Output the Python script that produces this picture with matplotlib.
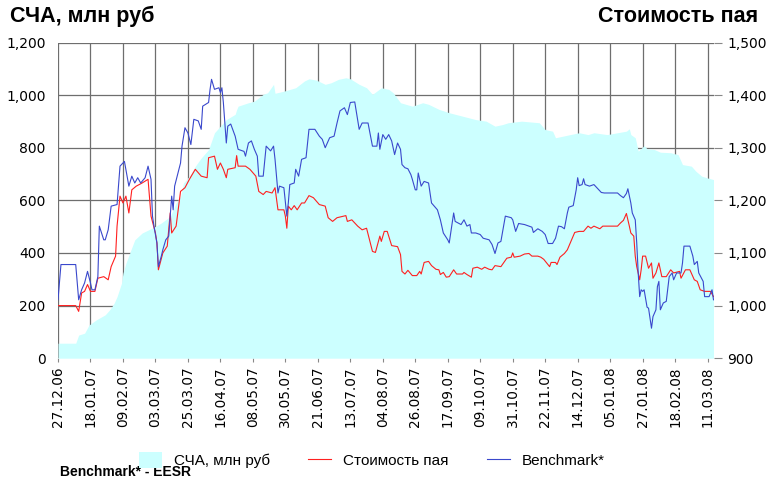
import datetime as dt
import matplotlib
matplotlib.use('Agg')
import matplotlib.pyplot as plt
import matplotlib.dates as mdates
from matplotlib.patches import Patch
from matplotlib.lines import Line2D
from matplotlib.ticker import FuncFormatter

start = dt.date(2006, 12, 27)

# СЧА, млн руб (left axis) - day offsets from 27.12.06
nav_days = [0, 12, 14, 18, 21, 26, 32, 35, 38, 40, 43, 44, 46, 49, 52, 57, 64, 70, 76, 80,
            83, 85, 89, 93, 97, 102, 104, 106, 110, 114, 120, 121, 122, 129, 133, 139, 142, 146, 147, 153,
            161, 167, 170, 175, 181, 185, 190, 195, 198, 204, 209, 213, 219, 224, 227, 232, 240, 247, 251, 258,
            265, 274, 283, 290, 296, 301, 305, 314, 326, 330, 335, 337, 342, 347, 353, 359, 363, 372, 379, 385,
            387, 388, 391, 393, 397, 399, 404, 408, 415, 420, 423, 429, 432, 436, 440, 444]
nav = [57, 57, 88, 95, 126, 146, 165, 184, 209, 234, 285, 323, 361, 406, 450, 476, 495, 514, 539, 590,
       615, 666, 692, 730, 761, 793, 825, 857, 882, 907, 927, 945, 958, 971, 977, 1003, 1009, 1041, 1007, 1015,
       1028, 1054, 1062, 1057, 1041, 1047, 1060, 1066, 1062, 1041, 1028, 1003, 1028, 1022, 1009, 971, 958, 971, 965, 946,
       933, 920, 907, 901, 882, 888, 895, 901, 895, 869, 863, 838, 844, 850, 857, 850, 857, 850, 857, 863,
       872, 850, 838, 787, 808, 796, 793, 783, 781, 774, 736, 730, 711, 692, 685, 679]

# Стоимость пая (right axis)
price_days = [0, 12, 14, 16, 18, 20, 22, 25, 27, 31, 34, 36, 39, 40, 42, 44, 46, 48, 50, 53,
              57, 61, 63, 66, 67, 68, 71, 74, 76, 77, 80, 83, 86, 89, 93, 97, 101, 102, 106, 108,
              110, 112, 114, 115, 120, 121, 122, 127, 130, 134, 136, 139, 141, 145, 147, 149, 153, 154, 155, 156,
              158, 160, 162, 165, 167, 170, 173, 177, 181, 183, 186, 189, 195, 196, 199, 203, 206, 209, 213, 215,
              218, 219, 221, 223, 226, 230, 232, 233, 235, 237, 240, 243, 245, 246, 248, 251, 253, 256, 258, 259,
              261, 263, 265, 268, 270, 274, 275, 277, 280, 281, 284, 287, 289, 292, 294, 296, 300, 302, 304, 307,
              308, 309, 313, 316, 319, 321, 325, 327, 329, 331, 333, 334, 337, 338, 340, 343, 345, 347, 350, 353,
              356, 359, 361, 363, 367, 369, 379, 381, 383, 385, 387, 388, 390, 391, 392, 394, 395, 396, 398, 400,
              402, 403, 405, 407, 409, 412, 415, 417, 421, 422, 425, 428, 431, 433, 435, 438, 442, 444]
price = [1000, 1000, 989, 1024, 1027, 1040, 1027, 1027, 1052, 1055, 1049, 1074, 1094, 1151, 1208, 1195, 1208, 1176, 1220, 1227,
         1233, 1240, 1170, 1138, 1119, 1068, 1100, 1113, 1176, 1138, 1151, 1217, 1224, 1240, 1259, 1246, 1243, 1281, 1284, 1259,
         1271, 1259, 1243, 1259, 1262, 1285, 1265, 1265, 1259, 1246, 1217, 1211, 1217, 1214, 1224, 1182, 1182, 1170, 1147, 1189,
         1182, 1190, 1182, 1195, 1195, 1209, 1205, 1192, 1189, 1167, 1160, 1167, 1171, 1160, 1163, 1151, 1144, 1147, 1103, 1101,
         1132, 1122, 1141, 1141, 1114, 1112, 1097, 1065, 1060, 1067, 1057, 1057, 1065, 1060, 1082, 1084, 1076, 1069, 1068, 1059,
         1063, 1054, 1055, 1068, 1060, 1060, 1063, 1059, 1054, 1071, 1073, 1069, 1073, 1069, 1068, 1076, 1074, 1082, 1090, 1092,
         1100, 1092, 1094, 1098, 1099, 1094, 1094, 1092, 1088, 1081, 1074, 1082, 1082, 1078, 1092, 1099, 1106, 1119, 1139, 1141,
         1141, 1151, 1147, 1151, 1146, 1151, 1151, 1157, 1162, 1175, 1151, 1138, 1132, 1094, 1074, 1049, 1068, 1094, 1094, 1071,
         1081, 1052, 1062, 1081, 1055, 1055, 1068, 1062, 1065, 1052, 1068, 1068, 1049, 1046, 1030, 1027, 1027, 1017]

# Benchmark* (right axis)
bench_days = [0, 2, 12, 14, 16, 18, 20, 22, 23, 25, 27, 28, 31, 32, 34, 36, 40, 42, 45, 48,
              50, 52, 54, 56, 59, 61, 63, 64, 65, 66, 67, 68, 70, 71, 73, 75, 77, 78, 79, 83,
              84, 86, 88, 90, 92, 95, 97, 98, 102, 103, 104, 106, 109, 110, 111, 112, 114, 115, 117, 120,
              122, 126, 127, 129, 131, 133, 135, 136, 139, 141, 144, 146, 147, 149, 150, 153, 155, 156, 157, 160,
              161, 163, 165, 168, 170, 174, 177, 179, 181, 184, 187, 189, 191, 194, 196, 198, 201, 204, 206, 210,
              213, 216, 217, 218, 220, 222, 224, 226, 228, 230, 232, 233, 235, 237, 239, 240, 242, 243, 244, 246,
              248, 251, 253, 257, 259, 261, 264, 265, 268, 269, 273, 275, 277, 279, 280, 283, 286, 288, 292, 294,
              296, 298, 300, 303, 307, 308, 310, 312, 316, 319, 321, 322, 325, 328, 330, 332, 335, 337, 339, 341,
              343, 345, 346, 349, 351, 352, 353, 355, 356, 357, 360, 363, 365, 368, 370, 379, 381, 383, 385, 386,
              388, 389, 391, 392, 393, 394, 395, 396, 397, 399, 400, 402, 403, 405, 406, 407, 408, 410, 412, 414,
              416, 417, 419, 422, 423, 424, 428, 430, 431, 433, 434, 437, 438, 441, 443, 444]
bench = [1011, 1078, 1078, 1011, 1030, 1043, 1065, 1043, 1030, 1030, 1055, 1151, 1125, 1125, 1144, 1189, 1192, 1265, 1274, 1227,
         1246, 1233, 1243, 1233, 1243, 1265, 1240, 1170, 1151, 1135, 1119, 1074, 1094, 1106, 1125, 1132, 1208, 1182, 1227, 1271,
         1303, 1338, 1328, 1306, 1354, 1351, 1335, 1379, 1386, 1411, 1430, 1411, 1414, 1405, 1414, 1386, 1309, 1341, 1345, 1322,
         1297, 1293, 1284, 1309, 1313, 1297, 1284, 1246, 1246, 1303, 1294, 1303, 1278, 1214, 1227, 1224, 1170, 1195, 1230, 1233,
         1259, 1246, 1278, 1281, 1335, 1335, 1322, 1316, 1300, 1319, 1322, 1347, 1370, 1376, 1363, 1386, 1387, 1335, 1347, 1347,
         1303, 1303, 1328, 1297, 1325, 1316, 1325, 1313, 1287, 1309, 1297, 1268, 1262, 1260, 1249, 1240, 1220, 1220, 1252, 1227,
         1236, 1233, 1195, 1182, 1163, 1138, 1125, 1119, 1176, 1160, 1154, 1163, 1151, 1154, 1138, 1138, 1135, 1128, 1125, 1116,
         1099, 1119, 1122, 1170, 1167, 1163, 1141, 1156, 1154, 1151, 1149, 1139, 1146, 1141, 1135, 1118, 1118, 1128, 1151, 1150,
         1146, 1176, 1187, 1190, 1220, 1243, 1228, 1230, 1241, 1230, 1227, 1230, 1224, 1215, 1214, 1214, 1209, 1205, 1213, 1222,
         1195, 1176, 1163, 1119, 1062, 1017, 1030, 1027, 1030, 997, 995, 957, 979, 992, 1036, 1046, 992, 1005, 1008, 1055,
         1062, 1049, 1062, 1062, 1081, 1113, 1113, 1094, 1078, 1084, 1062, 1046, 1017, 1017, 1030, 1011]

tick_days = list(range(0, 441, 22))


def to_dates(days):
    return [start + dt.timedelta(days=d) for d in days]


fig = plt.figure(figsize=(7.7, 4.78), dpi=100)
ax = fig.add_axes([58 / 770, 1 - 358.2 / 478, (713.5 - 58) / 770, (358.2 - 42.5) / 478])

ax.fill_between(to_dates(nav_days), nav, 0, color='#CCFFFF', linewidth=0, zorder=2)
ax.set_ylim(0, 1200)
ax.set_yticks(range(0, 1201, 200))
ax.yaxis.set_major_formatter(FuncFormatter(lambda v, p: '{:,.0f}'.format(v)))
ax.set_xlim(start, start + dt.timedelta(days=444.6))
ax.set_xticks(to_dates(tick_days))
ax.xaxis.set_major_formatter(mdates.DateFormatter('%d.%m.%y'))
ax.grid(True, color='#6e6e6e', linewidth=0.9, zorder=0)
ax.set_axisbelow(True)
for s in ax.spines.values():
    s.set_visible(False)
ax.tick_params(axis='y', length=0, pad=9, labelsize=10)
ax.tick_params(axis='x', length=3, color='#888888', labelsize=9.8, rotation=90, pad=3)

ax2 = ax.twinx()
ax2.plot(to_dates(price_days), price, '-', color='#FF2020', linewidth=0.8)
ax2.plot(to_dates(bench_days), bench, '-', color='#3a48cc', linewidth=0.8)
ax2.set_ylim(900, 1500)
ax2.set_yticks(range(900, 1501, 100))
ax2.yaxis.set_major_formatter(FuncFormatter(lambda v, p: '{:,.0f}'.format(v)))
for s in ax2.spines.values():
    s.set_visible(False)
ax2.tick_params(axis='y', length=6, color='#888888', labelsize=10, pad=4)

fig.text(10 / 770, 1 - 16 / 478, 'СЧА, млн руб', fontsize=15.5, fontweight='bold',
         family='Liberation Sans', va='center', ha='left')
fig.text(758 / 770, 1 - 16 / 478, 'Стоимость пая', fontsize=15.5, fontweight='bold',
         family='Liberation Sans', va='center', ha='right')

handles = [Patch(facecolor='#CCFFFF', edgecolor='none'),
           Line2D([], [], color='#FF2020', linewidth=0.8),
           Line2D([], [], color='#3a48cc', linewidth=0.8)]
fig.legend(handles, ['СЧА, млн руб', 'Стоимость пая', 'Benchmark*'], loc='center',
           bbox_to_anchor=(372 / 770, 1 - 460 / 478), ncol=3, frameon=False,
           prop={'family': 'Liberation Sans', 'size': 11}, handlelength=1.5,
           handleheight=1.2, columnspacing=2.5, handletextpad=0.8)
fig.text(60 / 770, 1 - 472 / 478, 'Benchmark* - EESR', fontsize=10, fontweight='bold',
         family='Liberation Sans', va='center', ha='left')

fig.savefig('out.png', dpi=100)
